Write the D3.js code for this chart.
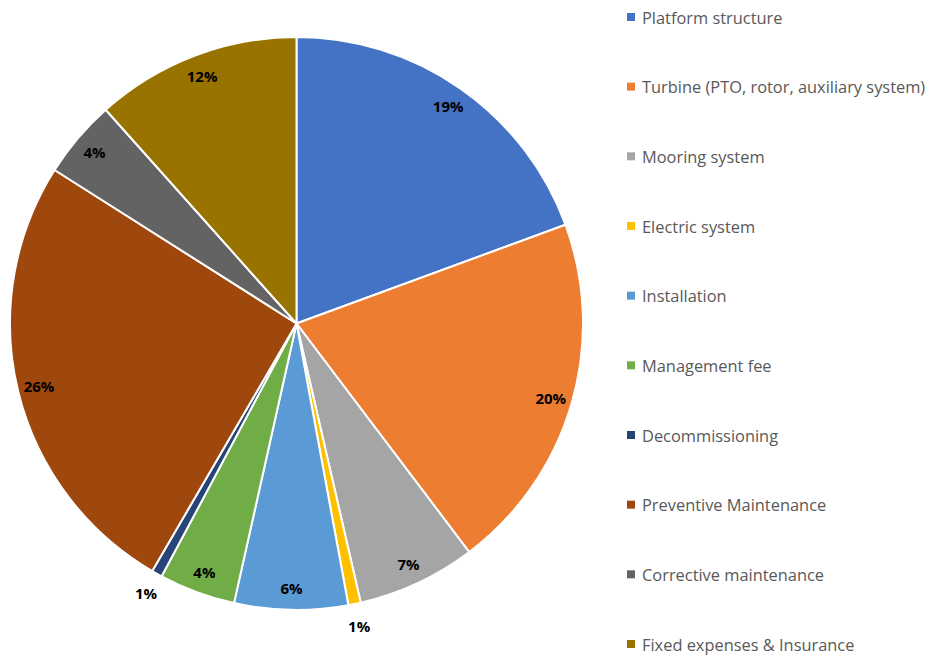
<!DOCTYPE html>
<html><head><meta charset="utf-8">
<script src="https://cdn.jsdelivr.net/npm/d3@7/dist/d3.min.js"></script>
<style>body{margin:0;background:#fff;} svg{display:block;}</style>
</head><body>
<svg id="chart" width="927" height="655"></svg>
<script>
const categories = ["Platform structure","Turbine (PTO, rotor, auxiliary system)","Mooring system","Electric system","Installation","Management fee","Decommissioning","Preventive Maintenance","Corrective maintenance","Fixed expenses & Insurance"];
const values = [19.4, 20.3, 6.7, 0.7, 6.4, 4.3, 0.6, 25.6, 4.4, 11.6];
const labels = ["19%","20%","7%","1%","6%","4%","1%","26%","4%","12%"];
const outside = [false,false,false,true,false,false,true,false,false,false];
const colors = ["#4472C4","#ED7D31","#A5A5A5","#FFC000","#5B9BD5","#70AD47","#264478","#9E480E","#636363","#997300"];

const svg = d3.select("#chart");
const cx = 296.5, cy = 323.5, R = 286.5;
const data = categories.map((c,i)=>({name:c, value:values[i], label:labels[i], out:outside[i], color:colors[i]}));
const pie = d3.pie().value(d=>d.value).sort(null);
const arcs = pie(data);
const arc = d3.arc().innerRadius(0).outerRadius(R);
const g = svg.append("g").attr("transform",`translate(${cx},${cy})`);
g.selectAll("path").data(arcs).join("path")
  .attr("d",arc).attr("fill",d=>d.data.color)
  .attr("stroke","#fff").attr("stroke-width",2).attr("stroke-linejoin","round");
const inArc = d3.arc().innerRadius(265).outerRadius(265);
const outArc = d3.arc().innerRadius(309).outerRadius(309);
g.selectAll("text.lbl").data(arcs).join("text").attr("class","lbl")
  .attr("transform",d=>`translate(${(d.data.out?outArc:inArc).centroid(d)})`)
  .attr("text-anchor","middle").attr("dominant-baseline","central")
  .attr("font-family","'Open Sans', 'Liberation Sans', sans-serif")
  .attr("font-weight","bold").attr("font-size",15).attr("fill","#000")
  .text(d=>d.data.label);

const leg = svg.append("g");
const ly = d3.scalePoint().domain(categories).range([17,644]);
const items = leg.selectAll("g").data(data).join("g")
  .attr("transform",d=>`translate(627,${ly(d.name)})`);
items.append("rect").attr("x",0).attr("y",-4).attr("width",8).attr("height",8).attr("fill",d=>d.color);
items.append("text").attr("x",15).attr("y",0).attr("dominant-baseline","central")
  .attr("font-family","'Open Sans', 'Liberation Sans', sans-serif").attr("font-size",16.4)
  .attr("fill","#595959").text(d=>d.name);
</script>
</body></html>
